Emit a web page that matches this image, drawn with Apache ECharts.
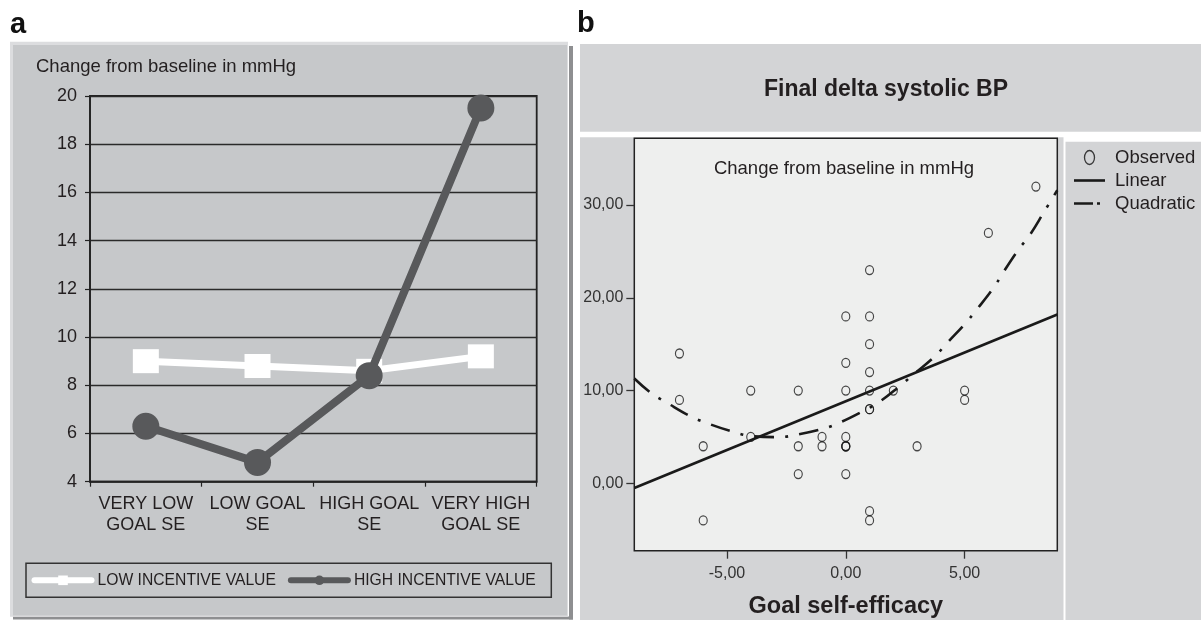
<!DOCTYPE html>
<html><head><meta charset="utf-8">
<script src="https://cdn.jsdelivr.net/npm/echarts@6/dist/echarts.min.js"></script>
<style>html,body{margin:0;padding:0;background:#fff}#c{width:1201px;height:620px}</style>
</head><body><div id="c"></div>
<script>
// ---- Panel a data ----
const groups = ['VERY LOW\nGOAL SE', 'LOW GOAL\nSE', 'HIGH GOAL\nSE', 'VERY HIGH\nGOAL SE'];
const lowIncentive = [9.0, 8.8, 8.6, 9.2];
const highIncentive = [6.3, 4.8, 8.4, 19.5];
const yMinA = 4, yMaxA = 20, yStepA = 2;

// ---- Panel b data ----
const observed = [
  [-7, 14], [-7, 9], [-6, 4], [-6, -4], [-4, 10], [-4, 5],
  [-2, 10], [-2, 4], [-2, 1], [-1, 5], [-1, 4],
  [0, 18], [0, 13], [0, 10], [0, 5], [0, 4], [0, 4], [0, 4], [0, 1],
  [1, 23], [1, 18], [1, 15], [1, 12], [1, 10], [1, 8], [1, 8], [1, -3], [1, -4],
  [2, 10], [3, 4], [5, 10], [5, 9], [6, 27], [8, 32]
];
const linearFit = [[-8.9, -0.5], [8.9, 18.2]];
const quadraticFit = [
  [-8.9, 11.3], [-8.2, 9.75], [-7.5, 8.65], [-6.55, 7.25], [-5.85, 6.5], [-4.8, 5.6],
  [-4.0, 5.1], [-2.85, 4.98], [-2.05, 5.25], [-1.0, 5.85], [-0.3, 6.5], [0.7, 7.75],
  [1.45, 8.85], [2.25, 10.45], [2.9, 11.85], [3.75, 13.7], [4.25, 15.1], [5.05, 17.3],
  [5.5, 18.7], [6.25, 21.2], [6.6, 22.65], [7.25, 25.15], [7.75, 26.8], [8.35, 29.3], [8.9, 31.6]
];
const xTicksB = [-5, 0, 5];
const yTicksB = [0, 10, 20, 30];
const xRangeB = [-8.9, 8.9];
const yRangeB = [-7.26, 37.2];

const FONT = "'Liberation Sans', Arial, sans-serif";
const INK = '#231f20';
const fmtComma = v => v.toFixed(2).replace('.', ',');
const NOSYM = {color: 'rgba(0,0,0,0)', borderColor: 'rgba(0,0,0,0)', borderWidth: 0};

const chart = echarts.init(document.getElementById('c'), null, {renderer: 'canvas'});
chart.setOption({
  animation: false,
  textStyle: {fontFamily: FONT},
  graphic: [
    // panel a box
    {type: 'rect', z: -10, shape: {x: 569, y: 46, width: 4, height: 573.5}, style: {fill: '#8e8f91'}},
    {type: 'rect', z: -10, shape: {x: 13, y: 616.5, width: 560, height: 3}, style: {fill: '#8e8f91'}},
    {type: 'rect', z: -10, shape: {x: 10, y: 41.7, width: 558, height: 575}, style: {fill: '#dcdddf'}},
    {type: 'rect', z: -9, shape: {x: 13, y: 45, width: 554, height: 570.5}, style: {fill: '#c6c8ca'}},
    // panel b boxes
    {type: 'rect', z: -10, shape: {x: 580, y: 44, width: 621, height: 87.7}, style: {fill: '#d3d4d6'}},
    {type: 'rect', z: -10, shape: {x: 580, y: 137.3, width: 483.5, height: 482.7}, style: {fill: '#d3d4d6'}},
    {type: 'rect', z: -10, shape: {x: 1065.5, y: 141.7, width: 135.5, height: 478.3}, style: {fill: '#d3d4d6'}},
    // texts
    {type: 'text', x: 10, y: 25, style: {text: 'a', font: "bold 29px " + FONT, fill: '#111', verticalAlign: 'middle', align: 'left'}},
    {type: 'text', x: 577, y: 24, style: {text: 'b', font: "bold 29px " + FONT, fill: '#111', verticalAlign: 'middle', align: 'left'}},
    {type: 'text', x: 36, y: 66.5, style: {text: 'Change from baseline in mmHg', font: "18.5px " + FONT, fill: INK, verticalAlign: 'middle', align: 'left'}},
    {type: 'text', x: 886, y: 89.5, style: {text: 'Final delta systolic BP', font: "bold 23px " + FONT, fill: INK, verticalAlign: 'middle', align: 'center'}},
    {type: 'text', x: 844, y: 169, style: {text: 'Change from baseline in mmHg', font: "18.5px " + FONT, fill: INK, verticalAlign: 'middle', align: 'center'}}
  ],
  grid: [
    {left: 90, top: 96, width: 446.7, height: 385.7, show: true, borderColor: '#222', borderWidth: 1.8,
     backgroundColor: 'transparent', containLabel: false, outerBoundsMode: 'none'},
    {left: 634.3, top: 138.3, width: 423, height: 412.4, show: true, borderColor: '#222', borderWidth: 1.5,
     backgroundColor: '#eeefee', containLabel: false, outerBoundsMode: 'none'}
  ],
  xAxis: [
    {gridIndex: 0, type: 'category', data: groups, boundaryGap: true,
     axisLine: {lineStyle: {color: '#222', width: 1.5}},
     axisTick: {show: true, length: 5, interval: 0, lineStyle: {color: '#222', width: 1.2}},
     axisLabel: {interval: 0, fontSize: 18, color: INK, lineHeight: 21, margin: 12, fontFamily: FONT},
     splitLine: {show: false}},
    {gridIndex: 1, type: 'value', min: xRangeB[0], max: xRangeB[1], position: 'bottom',
     axisLine: {show: false, onZero: false}, splitLine: {show: false},
     axisTick: {show: true, customValues: xTicksB, length: 8, lineStyle: {color: '#333', width: 1.3}},
     axisLabel: {customValues: xTicksB, formatter: fmtComma, fontSize: 16, color: '#333', margin: 15, fontFamily: FONT},
     name: 'Goal self-efficacy', nameLocation: 'middle', nameGap: 44,
     nameTextStyle: {fontSize: 23.5, fontWeight: 'bold', color: INK, fontFamily: FONT}}
  ],
  yAxis: [
    {gridIndex: 0, type: 'value', min: yMinA, max: yMaxA, interval: yStepA,
     axisLine: {show: true, lineStyle: {color: '#222', width: 1.5}},
     axisTick: {show: true, length: 5, lineStyle: {color: '#222', width: 1.2}},
     splitLine: {show: true, lineStyle: {color: '#2a2a2a', width: 1.3}},
     axisLabel: {fontSize: 18, color: INK, margin: 13, fontFamily: FONT}},
    {gridIndex: 1, type: 'value', min: yRangeB[0], max: yRangeB[1], position: 'left',
     axisLine: {show: false, onZero: false}, splitLine: {show: false},
     axisTick: {show: true, customValues: yTicksB, length: 8, lineStyle: {color: '#333', width: 1.3}},
     axisLabel: {customValues: yTicksB, formatter: fmtComma, fontSize: 16, color: '#333', margin: 11, fontFamily: FONT}}
  ],
  legend: [
    {left: 26, top: 563.3, orient: 'horizontal', itemWidth: 57, itemHeight: 12, itemGap: 12,
     padding: [9, 15.5, 9, 5.5], borderColor: '#333', borderWidth: 1.5, backgroundColor: 'transparent',
     textStyle: {fontSize: 15.7, color: INK, fontFamily: FONT, padding: [0, 0, 0, 1]},
     selectedMode: false,
     data: [
       {name: 'LOW INCENTIVE VALUE', lineStyle: {width: 6, cap: 'round'}},
       {name: 'HIGH INCENTIVE VALUE', lineStyle: {width: 6, cap: 'round'}}
     ]},
    {left: 1072.7, top: 148, orient: 'vertical', itemWidth: 31, itemHeight: 14, itemGap: 4, padding: 0,
     textStyle: {fontSize: 18.5, color: INK, fontFamily: FONT, padding: [0, 0, 0, 5]},
     selectedMode: false,
     data: [
       {name: 'Observed', icon: 'path://M5 0A5 7 0 1 1 5 14A5 7 0 1 1 5 0Z',
        itemStyle: {color: 'rgba(0,0,0,0)', borderColor: '#111', borderWidth: 1.3}},
       {name: 'Linear', itemStyle: NOSYM, lineStyle: {width: 2.6}},
       {name: 'Quadratic', itemStyle: NOSYM, lineStyle: {width: 2.6, type: [19, 4, 3, 10]}}
     ]}
  ],
  series: [
    {name: 'LOW INCENTIVE VALUE', type: 'line', xAxisIndex: 0, yAxisIndex: 0, data: lowIncentive,
     symbol: 'rect', symbolSize: [26, 24], z: 2,
     lineStyle: {color: '#ffffff', width: 7}, itemStyle: {color: '#ffffff'}},
    {name: 'HIGH INCENTIVE VALUE', type: 'line', xAxisIndex: 0, yAxisIndex: 0, data: highIncentive,
     symbol: 'circle', symbolSize: 27, z: 3,
     lineStyle: {color: '#58595b', width: 8}, itemStyle: {color: '#58595b'}},
    {name: 'Observed', type: 'scatter', xAxisIndex: 1, yAxisIndex: 1, data: observed,
     symbol: 'circle', symbolSize: [8, 9], z: 4,
     itemStyle: {color: 'rgba(0,0,0,0)', borderColor: '#1a1a1a', borderWidth: 1.2}},
    {name: 'Linear', type: 'line', xAxisIndex: 1, yAxisIndex: 1, data: linearFit,
     symbol: 'none', z: 3, lineStyle: {color: '#1a1a1a', width: 2.6}, itemStyle: {color: '#1a1a1a'}},
    {name: 'Quadratic', type: 'line', xAxisIndex: 1, yAxisIndex: 1, data: quadraticFit,
     symbol: 'none', smooth: 0.4, z: 3,
     lineStyle: {color: '#1a1a1a', width: 2.6, type: [20, 11, 3, 11]}, itemStyle: {color: '#1a1a1a'}}
  ]
});
</script>
</body></html>
